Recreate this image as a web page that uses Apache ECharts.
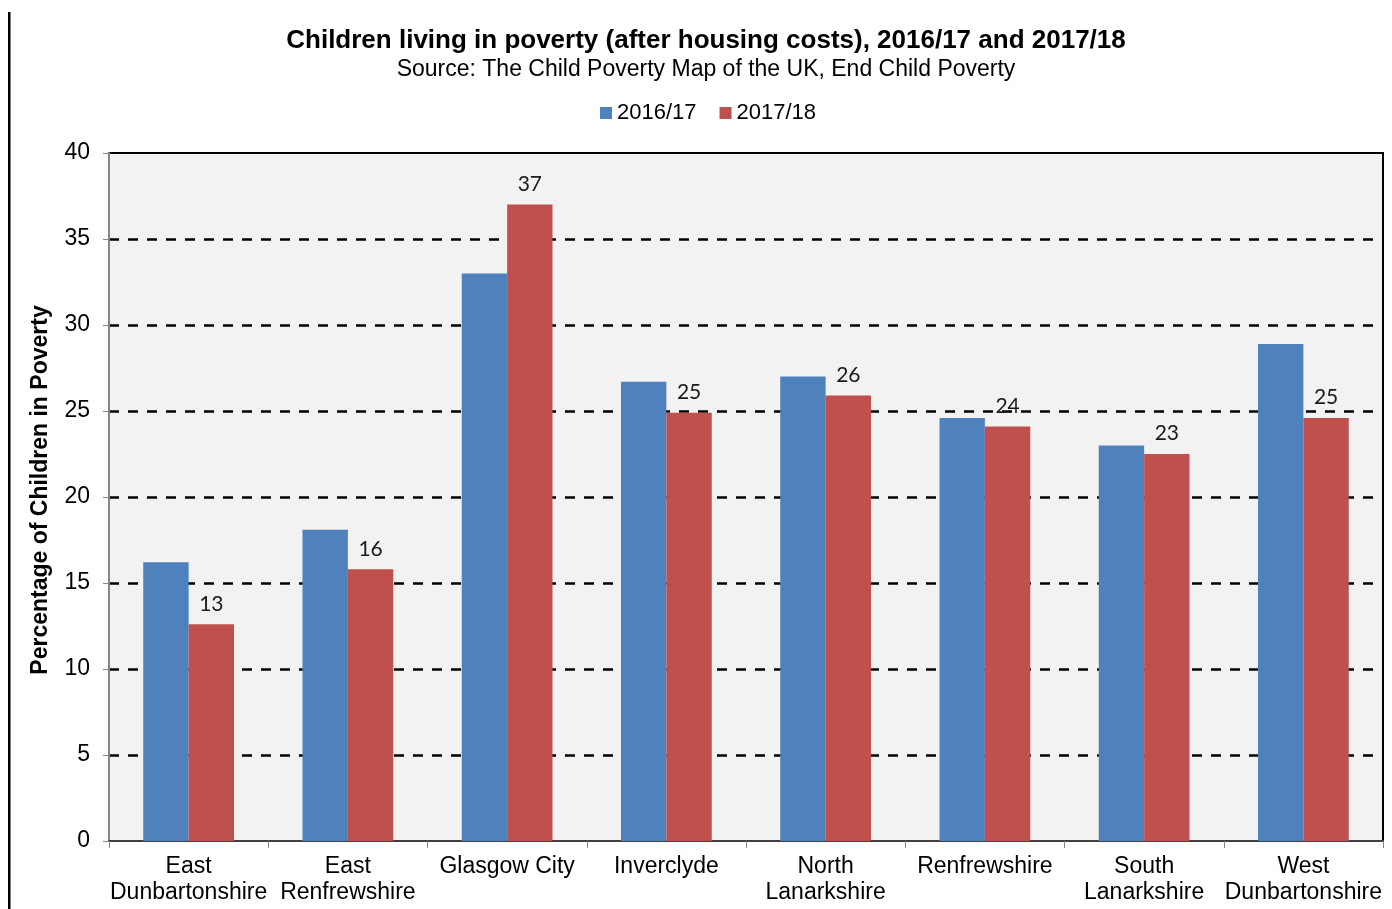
<!DOCTYPE html>
<html>
<head>
<meta charset="utf-8">
<title>Children living in poverty (after housing costs)</title>
<script src="https://cdn.jsdelivr.net/npm/echarts@6/dist/echarts.min.js"></script>
<style>
  html, body { margin: 0; padding: 0; background: #ffffff; }
  #chart { width: 1392px; height: 909px; }
</style>
</head>
<body>
<div id="chart"></div>
<script>
// Council areas shown along the x axis
const areas = [
  'East\nDunbartonshire', 'East\nRenfrewshire', 'Glasgow City', 'Inverclyde',
  'North\nLanarkshire', 'Renfrewshire', 'South\nLanarkshire', 'West\nDunbartonshire'
];
// Percentage of children in poverty, per year
const values2016 = [16.2, 18.1, 33.0, 26.7, 27.0, 24.6, 23.0, 28.9];
const values2017 = [12.6, 15.8, 37.0, 24.9, 25.9, 24.1, 22.5, 24.6];
const seriesNames = ['2016/17', '2017/18'];
// Value axis ticks
const yTicks = [0, 5, 10, 15, 20, 25, 30, 35, 40];

const axisFont = 'Liberation Sans, Arial, sans-serif';

const chart = echarts.init(document.getElementById('chart'), null, { renderer: 'canvas' });

chart.setOption({
  animation: false,
  backgroundColor: '#ffffff',
  title: {
    text: 'Children living in poverty (after housing costs), 2016/17 and 2017/18',
    subtext: 'Source: The Child Poverty Map of the UK, End Child Poverty',
    left: 706,
    top: 28,
    textAlign: 'center',
    padding: 0,
    itemGap: 4,
    textStyle: { fontFamily: axisFont, fontSize: 26, fontWeight: 'bold', color: '#000000' },
    subtextStyle: { fontFamily: axisFont, fontSize: 23, color: '#000000' }
  },
  legend: {
    data: seriesNames,
    left: 600,
    top: 102,
    padding: 0,
    itemWidth: 12,
    itemHeight: 12,
    itemGap: 23,
    icon: 'rect',
    textStyle: { fontFamily: axisFont, fontSize: 22, color: '#000000' }
  },
  grid: {
    left: 109,
    right: 9,
    top: 153,
    bottom: 68,
    show: true,
    backgroundColor: '#f2f2f2',
    borderColor: '#000000',
    borderWidth: 2,
    containLabel: false
  },
  xAxis: {
    type: 'category',
    data: areas,
    axisLine: { show: true, lineStyle: { color: '#404040', width: 2 } },
    axisTick: { show: true, alignWithLabel: false, length: 7, lineStyle: { color: '#868686', width: 1 } },
    axisLabel: {
      interval: 0,
      margin: 13,
      fontFamily: axisFont,
      fontSize: 23,
      lineHeight: 26,
      color: '#000000'
    },
    splitLine: { show: false }
  },
  yAxis: {
    type: 'value',
    min: yTicks[0],
    max: yTicks[yTicks.length - 1],
    interval: 5,
    name: 'Percentage of Children in Poverty',
    nameLocation: 'middle',
    nameGap: 57,
    nameTextStyle: {
      fontFamily: axisFont, fontSize: 23, fontWeight: 'bold', color: '#000000',
      padding: [0, 0, 0, 14]
    },
    axisLine: { show: true, lineStyle: { color: '#868686', width: 2 } },
    axisTick: { show: true, inside: false, length: 6, lineStyle: { color: '#868686', width: 1 } },
    axisLabel: {
      margin: 19,
      fontFamily: axisFont,
      fontSize: 23,
      color: '#000000',
      formatter: v => (yTicks.indexOf(v) >= 0 ? String(v) : '')
    },
    splitLine: {
      show: true,
      showMaxLine: false,
      showMinLine: false,
      lineStyle: { color: '#000000', width: 2.5, type: [10, 9] }
    }
  },
  series: [
    {
      name: seriesNames[0],
      type: 'bar',
      data: values2016,
      barGap: '0%',
      barCategoryGap: '43%',
      itemStyle: { color: '#4f81bd' },
      z: 3
    },
    {
      name: seriesNames[1],
      type: 'bar',
      data: values2017,
      itemStyle: { color: '#c0504d' },
      z: 3,
      label: {
        show: true,
        position: 'top',
        distance: 10,
        fontFamily: 'Lato, Open Sans, sans-serif',
        fontSize: 21,
        color: '#1a1a1a',
        formatter: p => String(Math.round(p.value))
      }
    }
  ],
  graphic: [
    {
      type: 'rect',
      shape: { x: 8, y: 12, width: 2.5, height: 897 },
      style: { fill: '#000000' },
      silent: true
    }
  ]
});
</script>
</body>
</html>
